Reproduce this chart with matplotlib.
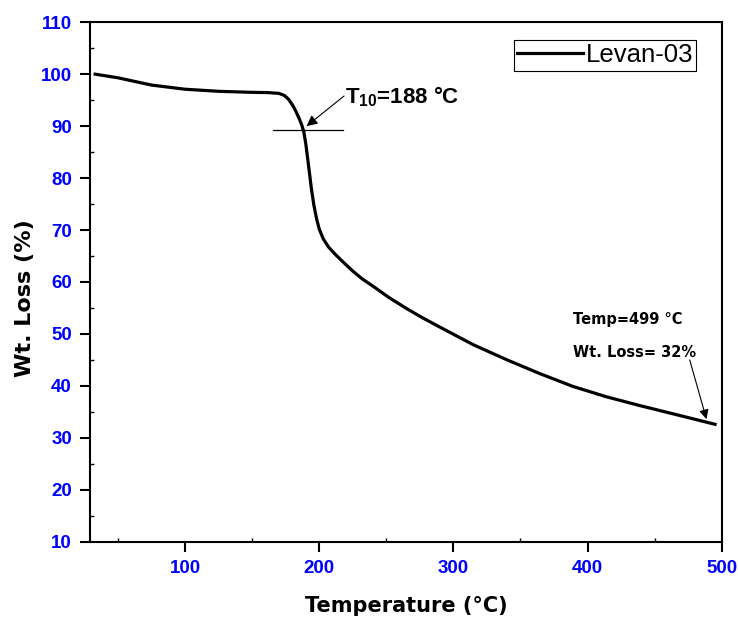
import matplotlib
matplotlib.use("Agg")
import matplotlib.pyplot as plt
from matplotlib.ticker import MultipleLocator

# Data
temperature = [33, 50, 75, 100, 125, 150, 162, 170, 174, 177, 180, 182.5, 185, 187,
               188.5, 190, 192, 194, 196, 198, 200, 203, 207, 212, 218, 225, 232,
               240, 252, 265, 277, 290, 315, 340, 364, 389, 414, 439, 464, 495]
wt_loss = [100, 99.3, 97.9, 97.1, 96.7, 96.5, 96.45, 96.3, 95.9, 95.2, 94.1, 92.9, 91.5, 90.2,
           88.9, 86.6, 82.5, 78.3, 74.8, 72.2, 70.2, 68.3, 66.7, 65.3, 63.8, 62.1, 60.6,
           59.2, 57.0, 54.9, 53.1, 51.3, 47.9, 45.0, 42.4, 39.9, 37.9, 36.2, 34.6, 32.6]

series_label = "Levan-03"
x_ticks = [100, 200, 300, 400, 500]
y_ticks = [10, 20, 30, 40, 50, 60, 70, 80, 90, 100, 110]

plt.rcParams['mathtext.fontset'] = 'custom'
plt.rcParams['mathtext.bf'] = 'Liberation Sans:bold'
plt.rcParams['mathtext.rm'] = 'Liberation Sans:bold'

fig = plt.figure(figsize=(7.38, 6.17), dpi=100)
ax = fig.add_axes([0.122, 0.122, 0.856, 0.842])

ax.plot(temperature, wt_loss, color='black', lw=2.3, label=series_label, zorder=3,
        solid_joinstyle='round')

ax.set_xlim(29.2, 500)
ax.set_ylim(10, 110)
ax.set_xticks(x_ticks)
ax.set_yticks(y_ticks)
ax.xaxis.set_minor_locator(MultipleLocator(50))
ax.yaxis.set_minor_locator(MultipleLocator(5))

for sp in ax.spines.values():
    sp.set_linewidth(1.5)

ax.tick_params(which='major', direction='out', length=7, width=1.5,
               top=False, right=False, pad=6)
ax.tick_params(which='minor', direction='in', length=3, width=1.0,
               top=False, right=False)
for lbl in ax.get_xticklabels() + ax.get_yticklabels():
    lbl.set_color('#0000FF')
    lbl.set_fontweight('bold')
    lbl.set_fontfamily('Liberation Sans')
    lbl.set_fontsize(13.5)

ax.set_xlabel('Temperature (°C)', fontsize=15, fontweight='bold',
              family='DejaVu Sans', labelpad=14)
ax.set_ylabel('Wt. Loss (%)', fontsize=16, fontweight='bold',
              family='DejaVu Sans')
ax.yaxis.set_label_coords(-0.087, 0.469)

leg = ax.legend(loc='upper right', bbox_to_anchor=(0.96, 0.965), fancybox=False,
                edgecolor='black', framealpha=1, borderpad=0.12, borderaxespad=0,
                handlelength=2.55, handletextpad=0.12,
                prop={'family': 'Liberation Sans', 'size': 18.5})
leg.get_frame().set_linewidth(0.8)

# T10 annotation
ax.plot([165.5, 217.7], [89.2, 89.2], color='black', lw=0.9, zorder=2)
ax.annotate('', xy=(190.6, 90.0), xytext=(218.5, 95.8),
            arrowprops=dict(arrowstyle='-|>', color='black', lw=0.8,
                            mutation_scale=16, shrinkA=0, shrinkB=0))
ax.text(219.5, 94.3, r'T$_{\mathbf{10}}$=188 °C', fontsize=16, fontweight='bold',
        family='Liberation Sans', ha='left', va='baseline')

# End annotation
ax.text(389, 52.7, 'Temp=499 °C', fontsize=10.5, fontweight='bold',
        family='DejaVu Sans', ha='left', va='center')
ax.text(389, 46.5, 'Wt. Loss= 32%', fontsize=10.5, fontweight='bold',
        family='DejaVu Sans', ha='left', va='center')
ax.annotate('', xy=(488.6, 33.6), xytext=(476.1, 45.0),
            arrowprops=dict(arrowstyle='-|>', color='black', lw=0.8,
                            mutation_scale=14, shrinkA=0, shrinkB=0))

fig.savefig('out.png', dpi=100)
